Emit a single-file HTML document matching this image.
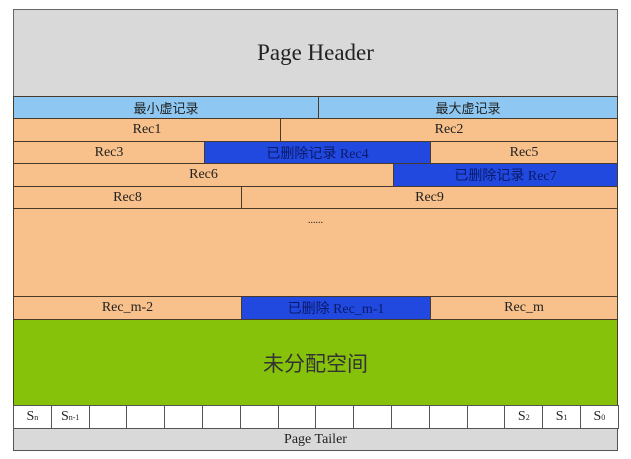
<!DOCTYPE html>
<html><head><meta charset="utf-8"><style>
body{margin:0;width:631px;height:459px;background:#fff;position:relative;overflow:hidden;font-family:"Liberation Serif","Noto Sans CJK SC",serif;}
.b{position:absolute;box-sizing:border-box;border:1px solid #4a3a2a;display:flex;align-items:center;justify-content:center;font-size:14px;color:#222;}
.o{background:#f8c08a;}
.d{background:#2149e0;color:#0a1a6a;}
.l{background:#8ec8f2;}
.g{background:#d9d9d9;}
.w{background:#fff;}
</style></head><body>
<div class="b g" style="left:13px;top:9px;width:605px;height:88px;font-size:23px;border-color:#666">Page Header</div>
<div class="b l" style="left:13px;top:96px;width:306px;height:23px;font-family:'Noto Sans CJK SC',sans-serif;font-size:13px">最小虚记录</div>
<div class="b l" style="left:318px;top:96px;width:300px;height:23px;font-family:'Noto Sans CJK SC',sans-serif;font-size:13px">最大虚记录</div>
<div class="b o" style="left:13px;top:118px;width:268px;height:24px">Rec1</div>
<div class="b o" style="left:280px;top:118px;width:338px;height:24px">Rec2</div>
<div class="b o" style="left:13px;top:141px;width:192px;height:23px">Rec3</div>
<div class="b d" style="left:204px;top:141px;width:227px;height:23px">已删除记录 Rec4</div>
<div class="b o" style="left:430px;top:141px;width:188px;height:23px">Rec5</div>
<div class="b o" style="left:13px;top:163px;width:381px;height:24px">Rec6</div>
<div class="b d" style="left:393px;top:163px;width:225px;height:24px">已删除记录 Rec7</div>
<div class="b o" style="left:13px;top:186px;width:229px;height:23px">Rec8</div>
<div class="b o" style="left:241px;top:186px;width:377px;height:23px">Rec9</div>
<div class="b o" style="left:13px;top:208px;width:605px;height:89px;align-items:flex-start;padding-top:6px;font-size:10px">......</div>
<div class="b o" style="left:13px;top:296px;width:229px;height:24px">Rec_m-2</div>
<div class="b d" style="left:241px;top:296px;width:190px;height:24px">已删除 Rec_m-1</div>
<div class="b o" style="left:430px;top:296px;width:188px;height:24px">Rec_m</div>
<div class="b" style="left:13px;top:319px;width:605px;height:87px;background:#86c20a;font-size:21px;font-family:'Noto Sans CJK SC',sans-serif;color:#333">未分配空间</div>
<div id="s"></div>
<div class="b g" style="left:13px;top:428px;width:605px;height:23px;border-color:#555">Page Tailer</div>
<script>
var labels={0:'S<sub style="font-size:8px">n</sub>',1:'S<sub style="font-size:8px">n-1</sub>',13:'S<sub style="font-size:8px">2</sub>',14:'S<sub style="font-size:8px">1</sub>',15:'S<sub style="font-size:8px">0</sub>'};
var h='';for(var i=0;i<16;i++){var x=13+i*37.8;h+='<div class="b w" style="left:'+x+'px;top:405px;width:38.8px;height:24px;border-color:#555">'+(labels[i]||'')+'</div>';}
document.getElementById('s').outerHTML=h;
</script>
</body></html>
